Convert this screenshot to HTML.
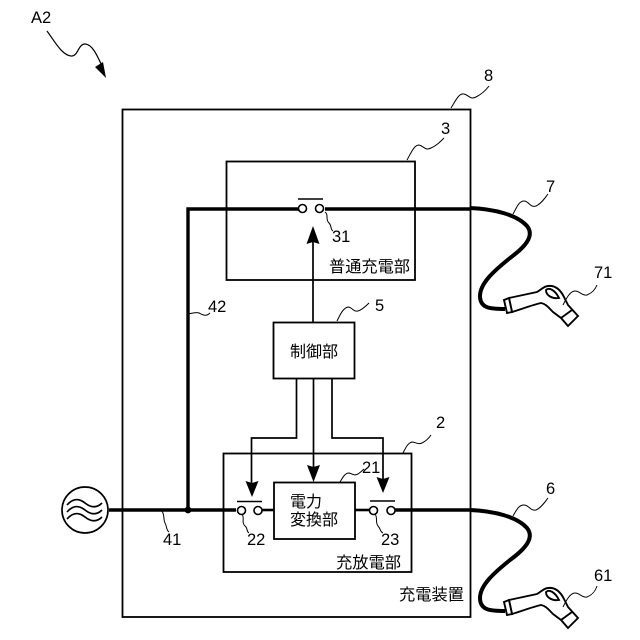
<!DOCTYPE html>
<html>
<head>
<meta charset="utf-8">
<style>
html,body{margin:0;padding:0;background:#fff}
svg{display:block}
text{font-family:"Liberation Sans","Noto Sans CJK JP",sans-serif;fill:#000}
</style>
</head>
<body>
<svg width="640" height="640" viewBox="0 0 640 640" xmlns="http://www.w3.org/2000/svg">
<defs>
<g id="plug" fill="none" stroke="#000">
<path d="M470 208 C495 209 517 215 527 226 C535 236 525 247 510 258 C495 270 480 283 480 296 C480 309 492 309 505 309" stroke-width="4"/>
<path d="M509 298 L537 292 C541 290 544 286 548 286 C556 285 561 291 564 297 L568 305 L578 316 L568 326 L561 318 L553 312 C548 307 546 304 541 303 C532 305 522 309 512 312 Z" fill="#fff" stroke-width="1.9"/>
<path d="M504 300 L509 298 L512 312 L507 313 Z" fill="#fff" stroke-width="1.9"/>
<path d="M546 290 C549 287 555 290 559 298 C553 299 546 296 546 290 Z" fill="#fff" stroke-width="1.9"/>
<path d="M572 310 L561 318" stroke-width="1.9"/>
</g>
</defs>

<g fill="none" stroke="#000" stroke-width="1.8">
<rect x="122.5" y="109.5" width="348" height="507.5"/>
<rect x="226.5" y="161.5" width="188.5" height="118.5"/>
<rect x="223.5" y="453.5" width="188" height="118.5"/>
</g>

<!-- thick lines -->
<g fill="none" stroke="#000" stroke-width="3.4">
<path d="M188 510 V209 H299"/>
<path d="M325 209 H470"/>
<path d="M109 510 H236"/>
<path d="M262 510 H274" stroke-width="2.6"/>
<path d="M355 510 H369" stroke-width="2.6"/>
<path d="M395 510 H470"/>
</g>
<circle cx="188" cy="510" r="3.4" fill="#000"/>

<use href="#plug"/>
<use href="#plug" y="302"/>

<!-- AC source -->
<circle cx="85" cy="510" r="23" fill="#fff" stroke="#000" stroke-width="1.7"/>
<g fill="none" stroke="#000" stroke-width="1.7">
<path d="M67 505 C74 497 80 499 85 503 C90 507 96 509 102 503"/>
<path d="M67 512 C74 504 80 506 85 510 C90 514 96 516 102 510"/>
<path d="M67 519 C74 511 80 513 85 517 C90 521 96 523 102 517"/>
</g>

<!-- switches -->
<g fill="#fff" stroke="#000" stroke-width="1.6">
<circle cx="302.5" cy="208.5" r="4"/><circle cx="319.5" cy="208.5" r="4"/>
<circle cx="241.5" cy="510.5" r="4"/><circle cx="258" cy="510.5" r="4"/>
<circle cx="373.5" cy="510.5" r="4"/><circle cx="391" cy="510.5" r="4"/>
</g>
<g stroke="#000" stroke-width="1.6">
<path d="M298 199 H323"/>
<path d="M237 501.5 H262"/>
<path d="M370 501 H395"/>
</g>

<!-- control lines -->
<g fill="none" stroke="#000" stroke-width="1.7">
<path d="M313 322 V240"/>
<path d="M296.500 378 V438 H251.500 V488"/>
<path d="M313.500 378 V470"/>
<path d="M332 378 V438 H383 V484"/>
</g>
<g fill="none" stroke="#000" stroke-width="1.8">
<rect x="273.5" y="322.500" width="81" height="56"/>
<rect x="274" y="482.500" width="81" height="56.500"/>
</g>
<g fill="#000" stroke="none">
<path d="M313 226 L319.500 244 L313 242 L306.500 244 Z"/>
<path d="M252 497 L245.500 481 L252 483 L258.500 481 Z"/>
<path d="M313.500 482 L307 465 L313.500 467 L320 465 Z"/>
<path d="M383 493 L376.500 477 L383 479 L389.500 477 Z"/>
<path d="M106 78 L95 67 L103 62 Z"/>
</g>

<!-- leader lines -->
<g fill="none" stroke="#000" stroke-width="1">
<path d="M47 31 C55 42 62 55 71 56 C78 57 78 44 85 44 C92 44 97 55 102 66" stroke-width="1.2"/>
<path d="M451 108 C456 100 459 93 464 94 C469 95 470 100 476 97 C482 94 486 90 489 86"/>
<path d="M407 160 C411 153 414 145 419 145 C424 146 425 151 431 148 C436 146 440 142 444 138"/>
<path d="M513 214 C517 207 519 201 524 201 C529 201 530 208 536 206 C541 204 545 198 548 194"/>
<path d="M513 516 C517 509 519 505 524 505 C529 505 530 511 536 510 C541 508 545 502 548 498"/>
<path d="M563 305 C566 299 570 291 575 291 C580 291 582 296 587 295 C592 293 595 290 597 285"/>
<path d="M563 607 C566 601 570 593 575 593 C580 593 582 598 587 597 C592 595 595 592 597 586"/>
<path d="M188 314 C193 313 196 312 199 313 C203 315 206 317 210 313"/>
<path d="M337 321 C340 315 343 308 348 307 C352 307 353 312 358 311 C362 310 366 306 369 303"/>
<path d="M325 212 C329 215 325 219 329 223 C332 226 330 229 333 231"/>
<path d="M242 514 C245 518 241 522 245 526 C248 528 246 531 249 533"/>
<path d="M375 514 C378 518 375 522 378 526 C381 529 380 532 383 533"/>
<path d="M162 511 C165 516 163 519 165 523 C167 526 166 530 169 532"/>
<path d="M340 482 C343 477 345 473 349 473 C353 474 354 476 358 474 C361 472 363 470 364 469"/>
<path d="M403 453 C406 447 408 443 412 442 C416 442 418 445 422 443 C426 441 429 438 431 435"/>
</g>

<!-- labels -->
<g font-size="16.500">
<text x="31" y="23">A2</text>
<text x="484" y="81">8</text>
<text x="441" y="134">3</text>
<text x="546" y="192">7</text>
<text x="594" y="278">71</text>
<text x="208" y="312">42</text>
<text x="375" y="311">5</text>
<text x="332" y="242">31</text>
<text x="436" y="428">2</text>
<text x="362" y="473">21</text>
<text x="546" y="494">6</text>
<text x="594" y="581">61</text>
<text x="163" y="545">41</text>
<text x="247" y="545">22</text>
<text x="381" y="545">23</text>
</g>
<g font-size="16">
<text x="329" y="272" textLength="81" lengthAdjust="spacingAndGlyphs">普通充電部</text>
<text x="290" y="357" textLength="48" lengthAdjust="spacingAndGlyphs">制御部</text>
<text x="290" y="507" textLength="32" lengthAdjust="spacingAndGlyphs">電力</text>
<text x="290" y="525" textLength="48" lengthAdjust="spacingAndGlyphs">変換部</text>
<text x="336" y="568" textLength="65" lengthAdjust="spacingAndGlyphs">充放電部</text>
<text x="399" y="600" textLength="65" lengthAdjust="spacingAndGlyphs">充電装置</text>
</g>
</svg>
</body>
</html>
